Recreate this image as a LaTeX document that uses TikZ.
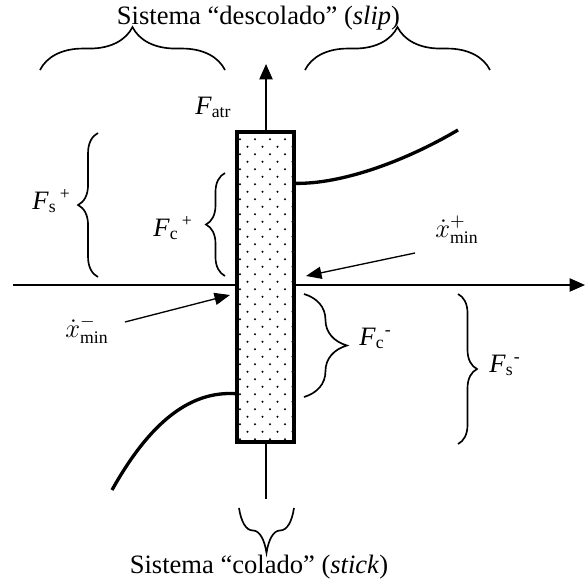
\documentclass[tikz,border=0pt]{standalone}
\usepackage{fontspec}
\setmainfont{Liberation Serif}
\usetikzlibrary{arrows.meta,decorations.pathreplacing,calc}

\begin{document}
\begin{tikzpicture}[x=0.452pt, y=-0.452pt,
  every node/.style={font=\fontsize{12}{14}\selectfont, inner sep=0pt},
  axis/.style={line width=0.75pt, -{Triangle[length=7pt,width=6pt]}},
  pointer/.style={line width=0.6pt, -{Triangle[length=7pt,width=5.5pt]}},
  curly/.style={line width=0.75pt, decorate, decoration={brace, amplitude=#1}},
  curve/.style={line width=1.5pt}]

\useasboundingbox (0,0) rectangle (585,587);

% ---- axes (drawn first, the block covers them) ----
\coordinate (xstart) at (13,285);
\coordinate (xend)   at (585,285);
\coordinate (ystart) at (266,499);
\coordinate (yend)   at (266,64);
\draw[axis] (xstart) -- (xend);
\draw[axis] (ystart) -- (yend);

% ---- stick block with dotted fill ----
\node[draw, line width=1.5pt, fill=white, minimum width=25.8pt,
      minimum height=140.1pt] (block) at (265.5,287) {};
\begin{scope}
  \clip ($(block.south west)+(1.7,-1.7)$) rectangle ($(block.north east)+(-1.7,1.7)$);
  \foreach \j in {0,...,40}{
    \foreach \i in {0,...,3}{
      \fill ({240+15*\i+7.5*mod(\j,2)},{139.3+7.5*\j}) circle (0.5pt);
    }
  }
\end{scope}

% ---- friction branches ----
\coordinate (upperend) at (458,130);
\coordinate (lowerend) at (112,490);
\draw[curve] ($(block.north east)+(0,53)$) .. controls (340,184) and (402,163) .. (upperend);
\draw[curve] ($(block.south west)+(0,-50)$) .. controls (190,391) and (150,422) .. (lowerend);

% ---- labels ----
\node[anchor=base] (sliplabel) at (258.5,24) {Sistema “descolado” (\textit{slip})};
\node[anchor=base] (sticklabel) at (259,573) {Sistema “colado” (\textit{stick})};
\node[anchor=base west] (fatr) at (195,114) {\textit{F}\textsubscript{atr}};
\node[anchor=base west] (fsplus) at (32,209) {\textit{F}\textsubscript{s}\textsuperscript{\,+}};
\node[anchor=base west] (fcplus) at (153,236) {\textit{F}\textsubscript{c}\textsuperscript{\,+}};
\node[anchor=base west] (fcminus) at (359,345) {\textit{F}\textsubscript{c}\textsuperscript{-}};
\node[anchor=base west] (fsminus) at (489,372) {\textit{F}\textsubscript{s}\textsuperscript{-}};
\node[anchor=base west] (vplus) at (435,237) {$\dot{x}^{+}_{\min}$};
\node[anchor=base west] (vminus) at (65,337) {$\dot{x}^{-}_{\min}$};

% ---- pointers to the block ----
\coordinate (vplusfrom)  at (415,253);
\coordinate (vplusto)    at (306,276);
\coordinate (vminusfrom) at (125,322);
\coordinate (vminusto)   at (230,295);
\draw[pointer] (vplusfrom) -- (vplusto);
\draw[pointer] (vminusfrom) -- (vminusto);

% ---- braces ----
\draw[curly=19.4pt] (40,70) -- (225,70);
\draw[curly=19.4pt] (305,70) -- (490,70);
\draw[curly=20.3pt] (294,508) -- (239,508);
\draw[curly=9pt]    (98,277) -- (98,133);
\draw[curly=8.6pt]  (225,276) -- (225,173);
\draw[curly=19.4pt] (304,294) -- (304,397);
\draw[curly=8.6pt]  (458,294) -- (458,444);

\end{tikzpicture}
\end{document}
